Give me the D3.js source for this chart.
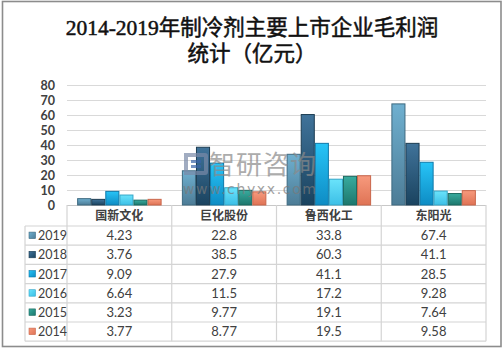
<!DOCTYPE html>
<html><head><meta charset="utf-8">
<script src="https://cdn.jsdelivr.net/npm/d3@7"></script>
<style>
html,body{margin:0;padding:0;background:#fff;}
svg{display:block;}
</style></head>
<body>
<script>
const categories = ["国新文化", "巨化股份", "鲁西化工", "东阳光"];
const years = ["2019", "2018", "2017", "2016", "2015", "2014"];
const v2019 = [4.23, 22.8, 33.8, 67.4];
const v2018 = [3.76, 38.5, 60.3, 41.1];
const v2017 = [9.09, 27.9, 41.1, 28.5];
const v2016 = [6.64, 11.5, 17.2, 9.28];
const v2015 = [3.23, 9.77, 19.1, 7.64];
const v2014 = [3.77, 8.77, 19.5, 9.58];
const yTicks = [0, 10, 20, 30, 40, 50, 60, 70, 80];
const titleLines = ["2014-2019年制冷剂主要上市企业毛利润", "统计（亿元）"];

const seriesValues = [v2019, v2018, v2017, v2016, v2015, v2014];
const colors = [
  {top:"#6fb0d0", bot:"#4d7c96", stroke:"#3e6a80"},
  {top:"#40739a", bot:"#1a435f", stroke:"#1c3c52"},
  {top:"#27c4f7", bot:"#0e8cc4", stroke:"#0f78a8"},
  {top:"#6ae3fb", bot:"#3cbfe6", stroke:"#34a6c8"},
  {top:"#38ab9e", bot:"#1d776d", stroke:"#1b6a61"},
  {top:"#f79a7d", bot:"#df7355", stroke:"#c9664b"}
];

const W = 504, H = 352;
const svg = d3.select("body").append("svg").attr("width", W).attr("height", H);
const font = "'Noto Sans CJK SC', 'Noto Sans', sans-serif";
const numFont = "Lato, 'Noto Sans', sans-serif";

// outer border
svg.append("rect").attr("x", 2.5).attr("y", 1.5).attr("width", 498.5).attr("height", 345)
  .attr("fill", "#fff").attr("stroke", "#8c8c8c").attr("stroke-width", 1.6);

// title
const title = svg.append("text").attr("text-anchor", "middle")
  .attr("font-family", "'Liberation Serif', 'Noto Sans CJK SC', serif")
  .attr("font-size", 21.5).attr("fill", "#111")
  .attr("stroke", "#111").attr("stroke-width", 0.5);
title.selectAll("tspan").data(titleLines).join("tspan")
  .attr("x", 252).attr("y", (d, i) => 35 + i * 26).text(d => d);

const x0 = 67, x1 = 486;
const yScale = d3.scaleLinear().domain([0, 80]).range([205, 85]);
const xScale = d3.scaleBand().domain(categories).range([x0, x1]).paddingInner(0).paddingOuter(0);
const xInner = d3.scaleBand().domain(years).range([0, xScale.bandwidth()]).paddingInner(0).paddingOuter(0.72);

// gradients
const defs = svg.append("defs");
years.forEach((y, i) => {
  const g = defs.append("linearGradient").attr("id", "g" + y).attr("x1", 0).attr("y1", 0).attr("x2", 0).attr("y2", 1);
  g.append("stop").attr("offset", "0%").attr("stop-color", colors[i].top);
  g.append("stop").attr("offset", "100%").attr("stop-color", colors[i].bot);
  const l = defs.append("linearGradient").attr("id", "lg" + y).attr("x1", 0).attr("y1", 0).attr("x2", 1).attr("y2", 1);
  l.append("stop").attr("offset", "0%").attr("stop-color", colors[i].top);
  l.append("stop").attr("offset", "100%").attr("stop-color", colors[i].bot);
});

// gridlines
const yAxis = d3.axisLeft(yScale).tickValues(yTicks).tickSize(-(x1 - x0)).tickPadding(12);
const ga = svg.append("g").attr("transform", `translate(${x0},0)`).call(yAxis);
ga.select(".domain").remove();
ga.selectAll(".tick line").attr("stroke", d => d === 0 ? "#c8c8c8" : "#d9d9d9").attr("stroke-width", 1.2);
ga.selectAll(".tick text").attr("font-family", numFont).attr("font-size", 12.5).attr("font-weight", "bold")
  .attr("fill", "#404040").attr("x", -12).attr("dy", "0.35em");

// bars
years.forEach((y, si) => {
  svg.append("g").selectAll("rect").data(categories).join("rect")
    .attr("x", c => xScale(c) + xInner(y) + 0.5)
    .attr("y", (c, ci) => yScale(seriesValues[si][ci]))
    .attr("width", xInner.bandwidth() - 1)
    .attr("height", (c, ci) => yScale(0) - yScale(seriesValues[si][ci]))
    .attr("fill", `url(#g${y})`)
    .attr("stroke", colors[si].stroke).attr("stroke-width", 1);
});

// watermark
const wm = svg.append("g").attr("opacity", 0.7);
wm.append("path").attr("d", "M184,153 h21 a3,3 0 0 1 3,3 v16 a3,3 0 0 1 -3,3 h-21 Z M188,157 v14 h16 v-14 Z")
  .attr("fill", "#7a8aa8").attr("fill-rule", "evenodd");
wm.append("rect").attr("x", 191).attr("y", 160).attr("width", 10).attr("height", 3).attr("fill", "#3a64a8");
wm.append("rect").attr("x", 191).attr("y", 165).attr("width", 10).attr("height", 3).attr("fill", "#3a64a8");
wm.append("text").attr("x", 209).attr("y", 174).attr("font-family", font).attr("font-size", 26)
  .attr("fill", "#8a8a8a").attr("textLength", 107).text("智研咨询");
wm.append("text").attr("x", 183).attr("y", 194).attr("font-family", "'DejaVu Sans', sans-serif").attr("font-size", 14)
  .attr("fill", "#7a7a7a").attr("textLength", 133).attr("lengthAdjust", "spacing").text("www.chyxx.com");

// table
const tLeft = 25, headerTop = 205, headerBot = 226, rowH = 19.2;
const tg = svg.append("g");
const gridColor = "#d4d4d4";
const bounds = [x0].concat(categories.map(c => xScale(c) + xScale.bandwidth()));
bounds.forEach(bx => {
  tg.append("line").attr("x1", bx).attr("x2", bx).attr("y1", headerTop).attr("y2", headerBot + rowH * 6)
    .attr("stroke", gridColor).attr("stroke-width", 1.2);
});
tg.append("line").attr("x1", tLeft).attr("x2", tLeft).attr("y1", headerBot).attr("y2", headerBot + rowH * 6)
  .attr("stroke", gridColor).attr("stroke-width", 1.2);
for (let r = 0; r <= 6; r++) {
  tg.append("line").attr("x1", tLeft).attr("x2", x1).attr("y1", headerBot + r * rowH).attr("y2", headerBot + r * rowH)
    .attr("stroke", gridColor).attr("stroke-width", 1.2);
}
tg.selectAll("text.h").data(categories).join("text").attr("class", "h")
  .attr("x", c => xScale(c) + xScale.bandwidth() / 2).attr("y", headerTop + 15)
  .attr("text-anchor", "middle").attr("font-family", font).attr("font-size", 12).attr("font-weight", "bold")
  .attr("fill", "#404040").text(c => c);
years.forEach((y, si) => {
  const cy = headerBot + si * rowH + rowH / 2;
  tg.append("rect").attr("x", 29).attr("y", cy - 3.5).attr("width", 6.5).attr("height", 6.5)
    .attr("fill", `url(#lg${y})`).attr("stroke", colors[si].stroke).attr("stroke-width", 0.6);
  tg.append("text").attr("x", 38).attr("y", cy).attr("dy", "0.36em").attr("font-family", numFont)
    .attr("font-size", 12.5).attr("fill", "#404040").text(y);
  tg.selectAll("text.v" + y).data(categories).join("text").attr("class", "v" + y)
    .attr("x", c => xScale(c) + xScale.bandwidth() / 2).attr("y", cy).attr("dy", "0.36em")
    .attr("text-anchor", "middle").attr("font-family", numFont).attr("font-size", 13)
    .attr("fill", "#404040").text((c, ci) => seriesValues[si][ci]);
});
</script>
</body></html>
